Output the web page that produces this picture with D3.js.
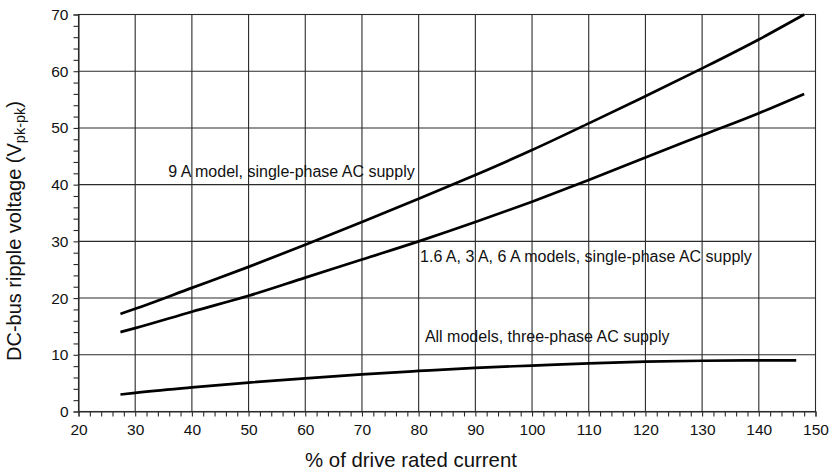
<!DOCTYPE html>
<html>
<head>
<meta charset="utf-8">
<script src="https://cdn.jsdelivr.net/npm/d3@7"></script>
<style>
  html, body { margin: 0; padding: 0; background: #fff; }
  svg { display: block; font-family: "Liberation Sans", Arial, Helvetica, sans-serif; }
</style>
</head>
<body>
<svg id="chart" width="836" height="473"></svg>
<script>
// ---- data ----
const xMajorTicks = [20, 30, 40, 50, 60, 70, 80, 90, 100, 110, 120, 130, 140, 150];
const yMajorTicks = [0, 10, 20, 30, 40, 50, 60, 70];

const xSinglePhase = [27.4, 30, 40, 50, 60, 70, 80, 90, 100, 110, 120, 130, 140, 148];
const nineAModel   = [17.2, 18.1, 21.8, 25.5, 29.4, 33.4, 37.5, 41.7, 46.1, 50.8, 55.6, 60.5, 65.6, 70.0];
const smallModels  = [14.0, 14.7, 17.6, 20.4, 23.6, 26.8, 30.0, 33.4, 37.0, 40.8, 44.8, 48.7, 52.6, 56.0];

const xThreePhase  = [27.4, 30, 40, 50, 60, 70, 80, 90, 100, 110, 120, 130, 140, 146.6];
const allModels3Ph = [3.0, 3.3, 4.25, 5.1, 5.85, 6.55, 7.15, 7.7, 8.1, 8.5, 8.8, 8.95, 9.02, 9.0];

const seriesLabels = [
  "9 A model, single-phase AC supply",
  "1.6 A, 3 A, 6 A models, single-phase AC supply",
  "All models, three-phase AC supply"
];
const xTitle = "% of drive rated current";

// ---- layout ----
const svg = d3.select("#chart");
const x = d3.scaleLinear().domain([20, 150]).range([78.5, 815.5]);
const y = d3.scaleLinear().domain([0, 70]).range([411.5, 14.5]);
const ink = "#000";
const gridColor = "#2a2a2a";

// grid
const g = svg.append("g");
g.selectAll("line.vg").data(xMajorTicks.slice(1, -1)).join("line")
  .attr("x1", d => x(d)).attr("x2", d => x(d))
  .attr("y1", y(0)).attr("y2", y(70))
  .attr("stroke", gridColor).attr("stroke-width", 1.1);
g.selectAll("line.hg").data(yMajorTicks.slice(1, -1)).join("line")
  .attr("x1", x(20)).attr("x2", x(150))
  .attr("y1", d => y(d)).attr("y2", d => y(d))
  .attr("stroke", gridColor).attr("stroke-width", 1.1);

// frame
svg.append("rect")
  .attr("x", x(20)).attr("y", y(70))
  .attr("width", x(150) - x(20)).attr("height", y(0) - y(70))
  .attr("fill", "none").attr("stroke", gridColor).attr("stroke-width", 1.1);

// axes
const xAxis = d3.axisBottom(x).tickValues(d3.range(20, 151, 2)).tickSize(5)
  .tickFormat(d => xMajorTicks.includes(d) ? d : "");
const yAxis = d3.axisLeft(y).tickValues(d3.range(0, 71, 2)).tickSize(5)
  .tickFormat(d => yMajorTicks.includes(d) ? d : "");

const gx = svg.append("g").attr("transform", `translate(0,${y(0)})`).call(xAxis);
const gy = svg.append("g").attr("transform", `translate(${x(20)},0)`).call(yAxis);
[gx, gy].forEach(a => {
  a.select(".domain").attr("stroke", gridColor).attr("stroke-width", 1.1);
  a.selectAll(".tick line").attr("stroke", gridColor).attr("stroke-width", 1.1);
  a.selectAll(".tick text").attr("fill", "#111")
    .style("font-size", "15.5px").style("font-family", '"Liberation Sans", Arial, sans-serif');
});
gx.selectAll(".tick text").attr("y", 12).attr("dy", "0.71em");
gy.selectAll(".tick text").attr("x", -10);

// curves
const line = d3.line().x(d => x(d[0])).y(d => y(d[1])).curve(d3.curveMonotoneX);
const series = [
  d3.zip(xSinglePhase, nineAModel),
  d3.zip(xSinglePhase, smallModels),
  d3.zip(xThreePhase, allModels3Ph)
];
svg.selectAll("path.curve").data(series).join("path")
  .attr("class", "curve")
  .attr("d", line)
  .attr("fill", "none").attr("stroke", ink).attr("stroke-width", 2.7);

// curve labels (anchored in data coordinates)
const labelAnchors = [[35.85, 41.35], [80.25, 26.4], [81.1, 12.3]];
svg.selectAll("text.clabel").data(seriesLabels).join("text")
  .attr("class", "clabel")
  .attr("x", (d, i) => x(labelAnchors[i][0]))
  .attr("y", (d, i) => y(labelAnchors[i][1]))
  .attr("fill", "#111").style("font-size", "16px")
  .text(d => d);

// x title
svg.append("text")
  .attr("x", 305).attr("y", 466.5)
  .attr("fill", "#111").style("font-size", "20.4px")
  .text(xTitle);

// y title
const yt = svg.append("text")
  .attr("transform", "translate(21,231) rotate(-90)")
  .attr("text-anchor", "middle")
  .attr("fill", "#111").style("font-size", "20px");
yt.append("tspan").text("DC-bus ripple voltage (V");
yt.append("tspan").attr("dy", 4).style("font-size", "14.5px").text("pk-pk");
yt.append("tspan").attr("dy", -4).text(")");
</script>
</body>
</html>
